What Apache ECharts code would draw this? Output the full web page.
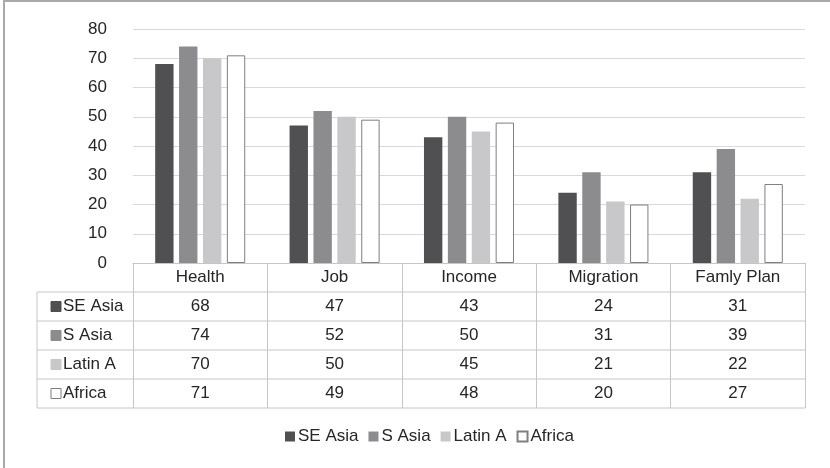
<!DOCTYPE html>
<html>
<head>
<meta charset="utf-8">
<script src="https://cdn.jsdelivr.net/npm/echarts@6/dist/echarts.min.js"></script>
<style>
  html, body { margin: 0; padding: 0; background: #ffffff; }
  #chart { width: 830px; height: 468px; }
</style>
</head>
<body>
<div id="chart"></div>
<script>
// Survey categories and regional values
const categories = ['Health', 'Job', 'Income', 'Migration', 'Famly Plan'];
const regions = ['SE Asia', 'S Asia', 'Latin A', 'Africa'];
const seAsia = [68, 47, 43, 24, 31];
const sAsia = [74, 52, 50, 31, 39];
const latinA = [70, 50, 45, 21, 22];
const africa = [71, 49, 48, 20, 27];
const yTicks = [0, 10, 20, 30, 40, 50, 60, 70, 80];

const seriesValues = [seAsia, sAsia, latinA, africa];
const fills = ['#505052', '#8c8c8e', '#c8c8ca', '#ffffff'];
const borders = ['#505052', '#8c8c8e', '#c8c8ca', '#7f7f7f'];

const FONT = '"Liberation Sans", Arial, sans-serif';
const TEXT = '#262626';
const TABLE_LINE = '#c6c6c6';

// Layout of the plot and the data table beneath it
const W = 830, H = 468;
const plotLeft = 133, plotRight = 805, plotTop = 29, plotBottom = 263;
const rowH = 29;
const tableLeft = 37;
const nRows = regions.length;
const tableBottom = plotBottom + rowH * (nRows + 1);

const chart = echarts.init(document.getElementById('chart'), null, { renderer: 'canvas' });

// Main category axis (header row) plus one offset axis per table row
const xAxes = [{
  type: 'category',
  data: categories,
  position: 'bottom',
  axisLine: { show: true, lineStyle: { color: TABLE_LINE, width: 1 } },
  axisTick: { show: true, interval: 0, length: rowH * (nRows + 1), lineStyle: { color: TABLE_LINE, width: 1 } },
  axisLabel: { interval: 0, margin: rowH / 2, verticalAlign: 'middle', color: TEXT, fontFamily: FONT, fontSize: 17 },
  splitLine: { show: false }
}];
seriesValues.forEach((vals, i) => {
  xAxes.push({
    type: 'category',
    data: categories,
    position: 'bottom',
    offset: rowH * (i + 1),
    axisLine: { show: false },
    axisTick: { show: false },
    axisLabel: {
      interval: 0, margin: rowH / 2, verticalAlign: 'middle',
      color: TEXT, fontFamily: FONT, fontSize: 17,
      formatter: (v, idx) => String(vals[idx])
    }
  });
});

// Table rules, row headers and outer frame
const graphics = [];
for (let r = 1; r <= nRows + 1; r++) {
  const y = plotBottom + rowH * r;
  graphics.push({
    type: 'line', silent: true,
    shape: { x1: tableLeft, y1: y, x2: plotRight, y2: y },
    style: { stroke: TABLE_LINE, lineWidth: 1 }
  });
}
graphics.push({
  type: 'line', silent: true,
  shape: { x1: tableLeft, y1: plotBottom + rowH, x2: tableLeft, y2: tableBottom },
  style: { stroke: TABLE_LINE, lineWidth: 1 }
});
regions.forEach((name, i) => {
  const cy = plotBottom + rowH * (i + 1) + rowH / 2;
  graphics.push({
    type: 'rect', silent: true,
    shape: { x: 51, y: cy - 5, width: 10, height: 10 },
    style: { fill: fills[i], stroke: borders[i], lineWidth: 1 }
  });
  graphics.push({
    type: 'text', silent: true,
    style: { x: 63, y: cy, text: name, fill: TEXT, font: '17px ' + FONT, textVerticalAlign: 'middle', verticalAlign: 'middle' }
  });
});
graphics.push({
  type: 'rect', silent: true,
  shape: { x: 4, y: 1, width: W + 10, height: H + 10 },
  style: { fill: 'none', stroke: '#a9a9a9', lineWidth: 2 }
});

const option = {
  backgroundColor: '#ffffff',
  animation: false,
  textStyle: { fontFamily: FONT },
  grid: { left: plotLeft, right: W - plotRight, top: plotTop, bottom: H - plotBottom, containLabel: false },
  legend: {
    data: regions,
    left: 285,
    top: 428,
    padding: 0,
    itemWidth: 10,
    itemHeight: 10,
    itemGap: 10,
    icon: 'rect',
    textStyle: { color: TEXT, fontFamily: FONT, fontSize: 17, padding: [0, 0, 0, -2] }
  },
  xAxis: xAxes,
  yAxis: {
    type: 'value',
    min: 0,
    max: 80,
    interval: 10,
    axisLine: { show: false },
    axisTick: { show: false },
    axisLabel: { margin: 26, color: TEXT, fontFamily: FONT, fontSize: 17, formatter: v => (yTicks.includes(v) ? String(v) : '') },
    splitLine: { lineStyle: { color: '#d9d9d9', width: 1 } }
  },
  series: seriesValues.map((vals, i) => ({
    name: regions[i],
    type: 'bar',
    xAxisIndex: 0,
    data: vals,
    barGap: '30%',
    barCategoryGap: '33%',
    itemStyle: { color: fills[i], borderColor: borders[i], borderWidth: i === 3 ? 1 : 0 }
  })),
  graphic: graphics
};

chart.setOption(option);
</script>
</body>
</html>
